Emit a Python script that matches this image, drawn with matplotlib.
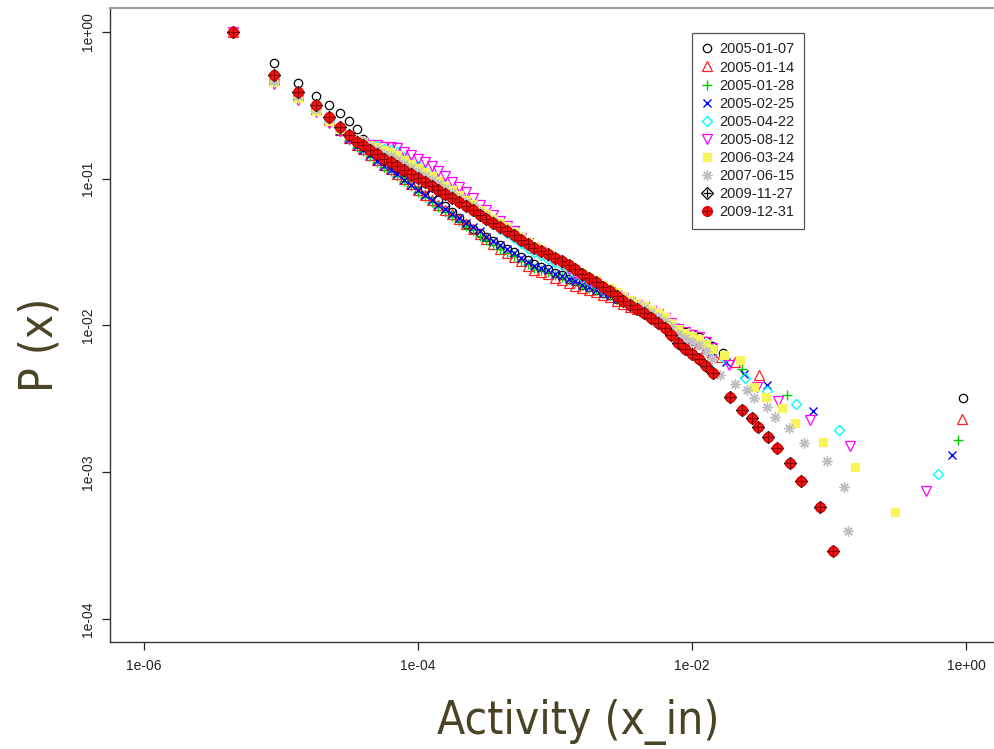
import matplotlib
matplotlib.use("Agg")
import matplotlib.pyplot as plt
from matplotlib import font_manager
from matplotlib.font_manager import FontProperties
from matplotlib.legend_handler import HandlerTuple

avail = {f.name for f in font_manager.fontManager.ttflist}
base_font = "Liberation Sans" if "Liberation Sans" in avail else "DejaVu Sans"
plt.rcParams['font.family'] = [base_font, 'DejaVu Sans']

# choose a narrow face for the big axis titles if one is installed
label_props = None
for nm in ("Liberation Sans Narrow", "Arial Narrow", "Nimbus Sans Narrow"):
    if nm in avail:
        label_props = dict(family=nm, size=37)
        break
if label_props is None:
    for f in font_manager.fontManager.ttflist:
        if str(f.stretch) in ("condensed", "semi-condensed", "extra-condensed") and f.style == "normal" \
                and f.weight in (400, "normal", "regular", "book"):
            label_props = dict(family=f.name, stretch=f.stretch, size=33)
            break
if label_props is None:
    label_props = dict(family=base_font, size=33)

# ---------------- data ----------------
dates = ["2005-01-07", "2005-01-14", "2005-01-28", "2005-02-25", "2005-04-22",
         "2005-08-12", "2006-03-24", "2007-06-15", "2009-11-27", "2009-12-31"]

x_ticks = [1e-6, 1e-4, 1e-2, 1e0]
x_tick_labels = ["1e-06", "1e-04", "1e-02", "1e+00"]
y_ticks = [1e-4, 1e-3, 1e-2, 1e-1, 1e0]
y_tick_labels = ["1e-04", "1e-03", "1e-02", "1e-01", "1e+00"]

x_head = [4.47e-6, 8.94e-6, 1.34e-5, 1.79e-5, 2.24e-5, 2.68e-5, 3.13e-5, 3.58e-5]
x_band = [4.0e-5, 4.47e-5, 5.01e-5, 5.62e-5, 6.31e-5, 7.08e-5, 7.94e-5, 8.91e-5,
          1.0e-4, 1.12e-4, 1.26e-4, 1.41e-4, 1.58e-4, 1.78e-4, 2.0e-4, 2.24e-4,
          2.51e-4, 2.82e-4, 3.16e-4, 3.55e-4, 3.98e-4, 4.47e-4, 5.01e-4, 5.62e-4,
          6.31e-4, 7.08e-4, 7.94e-4, 8.91e-4, 1.0e-3, 1.12e-3, 1.26e-3, 1.41e-3,
          1.58e-3, 1.78e-3, 2.0e-3, 2.24e-3, 2.51e-3, 2.82e-3, 3.16e-3, 3.55e-3,
          3.98e-3, 4.47e-3, 5.01e-3, 5.62e-3, 6.31e-3, 7.08e-3, 7.94e-3, 8.91e-3,
          1.0e-2, 1.12e-2, 1.26e-2]

# 2005-01-07
head_20050107 = [1.0, 0.615, 0.449, 0.366, 0.318, 0.281, 0.248, 0.218]
band_20050107 = [0.187, 0.171, 0.157, 0.141, 0.132, 0.123, 0.111, 0.103, 0.0934, 0.0864,
                 0.0784, 0.0715, 0.0650, 0.0591, 0.0538, 0.0489, 0.0458, 0.0430, 0.0403, 0.0377,
                 0.0353, 0.0331, 0.0315, 0.0295, 0.0281, 0.0264, 0.0250, 0.0241, 0.0229, 0.0220,
                 0.0206, 0.0200, 0.0189, 0.0183, 0.0175, 0.0167, 0.0161, 0.0152, 0.0146, 0.0138,
                 0.0133, 0.0129, 0.0124, 0.0118, 0.0112, 0.0104, 0.00960, 0.00904, 0.00876, 0.00833, 0.00787]
tailx_20050107 = [0.0141, 0.0168, 0.95]
tailp_20050107 = [7.3e-3, 6.5e-3, 3.2e-3]

# 2005-01-14
head_20050114 = [1.0, 0.48, 0.37, 0.30, 0.25, 0.215, 0.19, 0.17]
band_20050114 = [0.160, 0.146, 0.134, 0.125, 0.116, 0.108, 0.0998, 0.0923, 0.0836, 0.0774,
                 0.0714, 0.0660, 0.0611, 0.0573, 0.0530, 0.0489, 0.0451, 0.0417, 0.0391, 0.0360,
                 0.0331, 0.0311, 0.0291, 0.0273, 0.0256, 0.0240, 0.0231, 0.0223, 0.0212, 0.0203,
                 0.0194, 0.0187, 0.0181, 0.0175, 0.0169, 0.0162, 0.0156, 0.0147, 0.0141, 0.0134,
                 0.0129, 0.0125, 0.0118, 0.0113, 0.0105, 0.00974, 0.00888, 0.00835, 0.00797, 0.00758, 0.00705]
tailx_20050114 = [0.0141, 0.0163, 0.0206, 0.0308, 0.936]
tailp_20050114 = [6.6e-3, 6.1e-3, 5.64e-3, 4.6e-3, 2.31e-3]

# 2005-01-28
head_20050128 = [1.0, 0.47, 0.36, 0.295, 0.245, 0.21, 0.185, 0.165]
band_20050128 = [0.155, 0.142, 0.130, 0.121, 0.113, 0.105, 0.0967, 0.0894, 0.0811, 0.0750,
                 0.0692, 0.0640, 0.0592, 0.0555, 0.0513, 0.0474, 0.0444, 0.0410, 0.0385, 0.0354,
                 0.0331, 0.0311, 0.0296, 0.0277, 0.0264, 0.0248, 0.0238, 0.0230, 0.0222, 0.0213,
                 0.0203, 0.0197, 0.0189, 0.0180, 0.0175, 0.0167, 0.0161, 0.0152, 0.0146, 0.0138,
                 0.0133, 0.0129, 0.0122, 0.0116, 0.0109, 0.0101, 0.00916, 0.00862, 0.00822, 0.00782, 0.00728]
tailx_20050128 = [0.0141, 0.0170, 0.0232, 0.0493, 0.875]
tailp_20050128 = [6.7e-3, 5.9e-3, 5.05e-3, 3.36e-3, 1.66e-3]

# 2005-02-25
head_20050225 = [1.0, 0.47, 0.365, 0.297, 0.247, 0.212, 0.187, 0.167]
band_20050225 = [0.157, 0.144, 0.132, 0.123, 0.115, 0.107, 0.0983, 0.0908, 0.0836, 0.0774,
                 0.0714, 0.0660, 0.0620, 0.0573, 0.0538, 0.0497, 0.0466, 0.0437, 0.0403, 0.0377,
                 0.0353, 0.0331, 0.0310, 0.0290, 0.0272, 0.0256, 0.0246, 0.0237, 0.0226, 0.0216,
                 0.0206, 0.0200, 0.0189, 0.0183, 0.0175, 0.0167, 0.0161, 0.0152, 0.0146, 0.0138,
                 0.0131, 0.0126, 0.0120, 0.0114, 0.0107, 0.0099, 0.0091, 0.0085, 0.0081, 0.0077, 0.0072]
tailx_20050225 = [0.0141, 0.0178, 0.0240, 0.0352, 0.0764, 0.79]
tailp_20050225 = [6.6e-3, 5.6e-3, 4.7e-3, 3.93e-3, 2.61e-3, 1.31e-3]

# 2005-04-22
head_20050422 = [1.0, 0.46, 0.36, 0.295, 0.25, 0.22, 0.20, 0.182]
band_20050422 = [0.175, 0.171, 0.167, 0.160, 0.157, 0.153, 0.141, 0.130, 0.122, 0.113,
                 0.104, 0.0963, 0.0890, 0.0809, 0.0749, 0.0691, 0.0637, 0.0588, 0.0535, 0.0492,
                 0.0453, 0.0425, 0.0392, 0.0367, 0.0339, 0.0318, 0.0301, 0.0286, 0.0272, 0.0257,
                 0.0241, 0.0226, 0.0215, 0.0201, 0.0192, 0.0178, 0.0168, 0.0159, 0.0150, 0.0142,
                 0.0136, 0.0130, 0.0125, 0.0118, 0.0111, 0.0103, 0.0094, 0.0088, 0.0084, 0.0080, 0.0075]
tailx_20050422 = [0.0141, 0.0170, 0.0245, 0.0350, 0.0574, 0.118, 0.625]
tailp_20050422 = [6.9e-3, 6.0e-3, 4.4e-3, 3.6e-3, 2.92e-3, 1.94e-3, 9.7e-4]

# 2005-08-12
head_20050812 = [1.0, 0.445, 0.345, 0.285, 0.24, 0.21, 0.19, 0.178]
band_20050812 = [0.175, 0.171, 0.169, 0.165, 0.164, 0.163, 0.152, 0.145, 0.136, 0.130,
                 0.122, 0.113, 0.104, 0.0946, 0.0875, 0.0809, 0.0734, 0.0667, 0.0616, 0.0567,
                 0.0514, 0.0475, 0.0438, 0.0397, 0.0367, 0.0339, 0.0316, 0.0296, 0.0281, 0.0261,
                 0.0241, 0.0226, 0.0215, 0.0201, 0.0192, 0.0178, 0.0168, 0.0159, 0.0153, 0.0145,
                 0.0137, 0.0133, 0.0126, 0.0120, 0.0112, 0.0104, 0.00946, 0.00904, 0.00862, 0.00833, 0.00776]
tailx_20050812 = [0.0141, 0.0186, 0.0300, 0.0425, 0.0726, 0.142, 0.511]
tailp_20050812 = [7.0e-3, 5.38e-3, 3.8e-3, 3.06e-3, 2.27e-3, 1.51e-3, 7.45e-4]

# 2006-03-24
head_20060324 = [1.0, 0.455, 0.355, 0.29, 0.248, 0.218, 0.198, 0.184]
band_20060324 = [0.178, 0.171, 0.164, 0.158, 0.152, 0.144, 0.135, 0.126, 0.118, 0.111,
                 0.104, 0.0963, 0.0890, 0.0835, 0.0772, 0.0713, 0.0668, 0.0617, 0.0579, 0.0533,
                 0.0498, 0.0468, 0.0431, 0.0403, 0.0373, 0.0350, 0.0331, 0.0310, 0.0295, 0.0274,
                 0.0257, 0.0241, 0.0229, 0.0214, 0.0204, 0.0190, 0.0179, 0.0169, 0.0158, 0.0149,
                 0.0142, 0.0135, 0.0128, 0.0122, 0.0114, 0.0104, 0.00946, 0.00889, 0.00849, 0.00808, 0.00751]
tailx_20060324 = [0.0141, 0.0170, 0.0224, 0.0284, 0.0347, 0.0454, 0.0565, 0.0903, 0.155, 0.303]
tailp_20060324 = [6.9e-3, 6.3e-3, 5.82e-3, 3.81e-3, 3.26e-3, 2.74e-3, 2.17e-3, 1.61e-3, 1.09e-3, 5.36e-4]

# 2007-06-15
head_20070615 = [1.0, 0.465, 0.365, 0.30, 0.255, 0.222, 0.20, 0.185]
band_20070615 = [0.181, 0.168, 0.159, 0.148, 0.143, 0.135, 0.126, 0.119, 0.111, 0.104,
                 0.0977, 0.0919, 0.0849, 0.0796, 0.0737, 0.0691, 0.0648, 0.0597, 0.0561, 0.0516,
                 0.0483, 0.0453, 0.0418, 0.0391, 0.0361, 0.0339, 0.0321, 0.0300, 0.0285, 0.0266,
                 0.0249, 0.0234, 0.0221, 0.0208, 0.0198, 0.0184, 0.0174, 0.0164, 0.0153, 0.0145,
                 0.0137, 0.0131, 0.0122, 0.0114, 0.0107, 0.00974, 0.00874, 0.00823, 0.00772, 0.00735, 0.00673]
tailx_20070615 = [0.0141, 0.0160, 0.0205, 0.0252, 0.0284, 0.0352, 0.0403, 0.0511, 0.0658, 0.0966, 0.1285, 0.138]
tailp_20070615 = [5.9e-3, 4.6e-3, 4.0e-3, 3.63e-3, 3.21e-3, 2.79e-3, 2.38e-3, 2.0e-3, 1.58e-3, 1.19e-3, 7.9e-4, 3.98e-4]

# 2009-12-31 (2009-11-27 lies exactly underneath)
head_20091231 = [1.0, 0.509, 0.39, 0.318, 0.264, 0.225, 0.199, 0.178]
band_20091231 = [0.170, 0.158, 0.147, 0.137, 0.130, 0.123, 0.115, 0.108, 0.101, 0.0949,
                 0.0889, 0.0836, 0.0785, 0.0736, 0.0692, 0.0649, 0.0608, 0.0570, 0.0535, 0.0500,
                 0.0468, 0.0439, 0.0411, 0.0385, 0.0361, 0.0339, 0.0321, 0.0305, 0.0290, 0.0274,
                 0.0257, 0.0241, 0.0225, 0.0211, 0.0198, 0.0184, 0.0171, 0.0159, 0.0148, 0.0138,
                 0.0129, 0.0121, 0.0113, 0.0104, 0.00959, 0.00859, 0.00759, 0.00692, 0.00640, 0.00590, 0.00532]
tailx_20091231 = [0.0142, 0.0189, 0.0232, 0.0274, 0.0303, 0.0359, 0.0417, 0.0519, 0.0625, 0.0859, 0.107]
tailp_20091231 = [4.75e-3, 3.26e-3, 2.65e-3, 2.34e-3, 2.03e-3, 1.74e-3, 1.46e-3, 1.16e-3, 8.7e-4, 5.8e-4, 2.9e-4]

head_20091127 = head_20091231
band_20091127 = band_20091231
tailx_20091127 = tailx_20091231
tailp_20091127 = tailp_20091231

series = [
    (head_20050107, band_20050107, tailx_20050107, tailp_20050107),
    (head_20050114, band_20050114, tailx_20050114, tailp_20050114),
    (head_20050128, band_20050128, tailx_20050128, tailp_20050128),
    (head_20050225, band_20050225, tailx_20050225, tailp_20050225),
    (head_20050422, band_20050422, tailx_20050422, tailp_20050422),
    (head_20050812, band_20050812, tailx_20050812, tailp_20050812),
    (head_20060324, band_20060324, tailx_20060324, tailp_20060324),
    (head_20070615, band_20070615, tailx_20070615, tailp_20070615),
    (head_20091127, band_20091127, tailx_20091127, tailp_20091127),
    (head_20091231, band_20091231, tailx_20091231, tailp_20091231),
]

# ---------------- styles (R pch 1..10, palette 1..10) ----------------
styles = [
    [dict(marker='o', ms=6, mfc='none', mec='black', mew=0.9)],
    [dict(marker='^', ms=7, mfc='none', mec='#ff2020', mew=0.9)],
    [dict(marker='+', ms=7.5, mec='#00cd00', mew=1.0)],
    [dict(marker='x', ms=6, mec='#0000ff', mew=1.0)],
    [dict(marker='D', ms=5.5, mfc='none', mec='#00ffff', mew=1.0)],
    [dict(marker='v', ms=7, mfc='none', mec='#ff00ff', mew=0.9)],
    [dict(marker='s', ms=6, mfc='#f8f55a', mec='#f8f55a', mew=0.9)],
    [dict(marker=(8, 2, 0), ms=7.5, mec='#bebebe', mew=1.0)],
    [dict(marker='D', ms=6.4, mfc='none', mec='black', mew=0.9),
     dict(marker='+', ms=6.4, mec='black', mew=0.9)],
    [dict(marker='o', ms=7, mfc='#ee1515', mec='#dd0000', mew=0.9),
     dict(marker='+', ms=7, mec='#8a0000', mew=0.8)],
]

W, H = 994, 749
fig = plt.figure(figsize=(W / 100, H / 100), dpi=100)
ax = fig.add_axes([110 / W, 1 - 642 / H, (1000 - 110) / W, (642 - 8) / H])
ax.set_xscale('log')
ax.set_yscale('log')

handles = []
for (head, band, tx, tp), st in zip(series, styles):
    xs = x_head + x_band + tx
    ys = head + band + tp
    arts = []
    for kw in st:
        ln, = ax.plot(xs, ys, linestyle='none', **kw)
        arts.append(ln)
    handles.append(tuple(arts))

ax.set_xlim(5.65e-7, 1.77)
ax.set_ylim(6.97e-5, 1.457)
ax.minorticks_off()
ax.set_xticks(x_ticks)
ax.set_xticklabels(x_tick_labels)
ax.set_yticks(y_ticks)
ax.set_yticklabels(y_tick_labels, rotation=90, va='center')
ax.tick_params(axis='both', which='major', direction='out', length=6, width=0.9,
               color='#222222', labelsize=10, labelcolor='#222222')
ax.tick_params(axis='x', pad=6)
ax.tick_params(axis='y', pad=5)

ax.spines['right'].set_visible(False)
ax.spines['top'].set_color('#a0a0a0')
ax.spines['top'].set_linewidth(1.6)
for s in ('left', 'bottom'):
    ax.spines[s].set_color('#333333')
    ax.spines[s].set_linewidth(1.0)

leg = ax.legend(handles, dates, loc='upper left', bbox_to_anchor=(692 / W, 1 - 33 / H),
                bbox_transform=fig.transFigure, borderaxespad=0, fancybox=False,
                framealpha=1, edgecolor='#555555', fontsize=10.5, handlelength=0.8,
                handletextpad=0.45, labelspacing=0.28, borderpad=0.65, numpoints=1,
                handler_map={tuple: HandlerTuple(ndivide=1)})
leg.get_frame().set_linewidth(0.9)
for t in leg.get_texts():
    t.set_color('#222222')

label_color = '#4a4427'
fp = FontProperties(**label_props)
fig.text(578 / W, 1 - 722 / H, "Activity (x_in)", ha='center', va='center',
         fontproperties=fp, color=label_color)
fig.text(40 / W, 1 - 345 / H, "P (x)", ha='center', va='center', rotation=90,
         fontproperties=fp, color=label_color)

fig.savefig("out.png", dpi=100)
